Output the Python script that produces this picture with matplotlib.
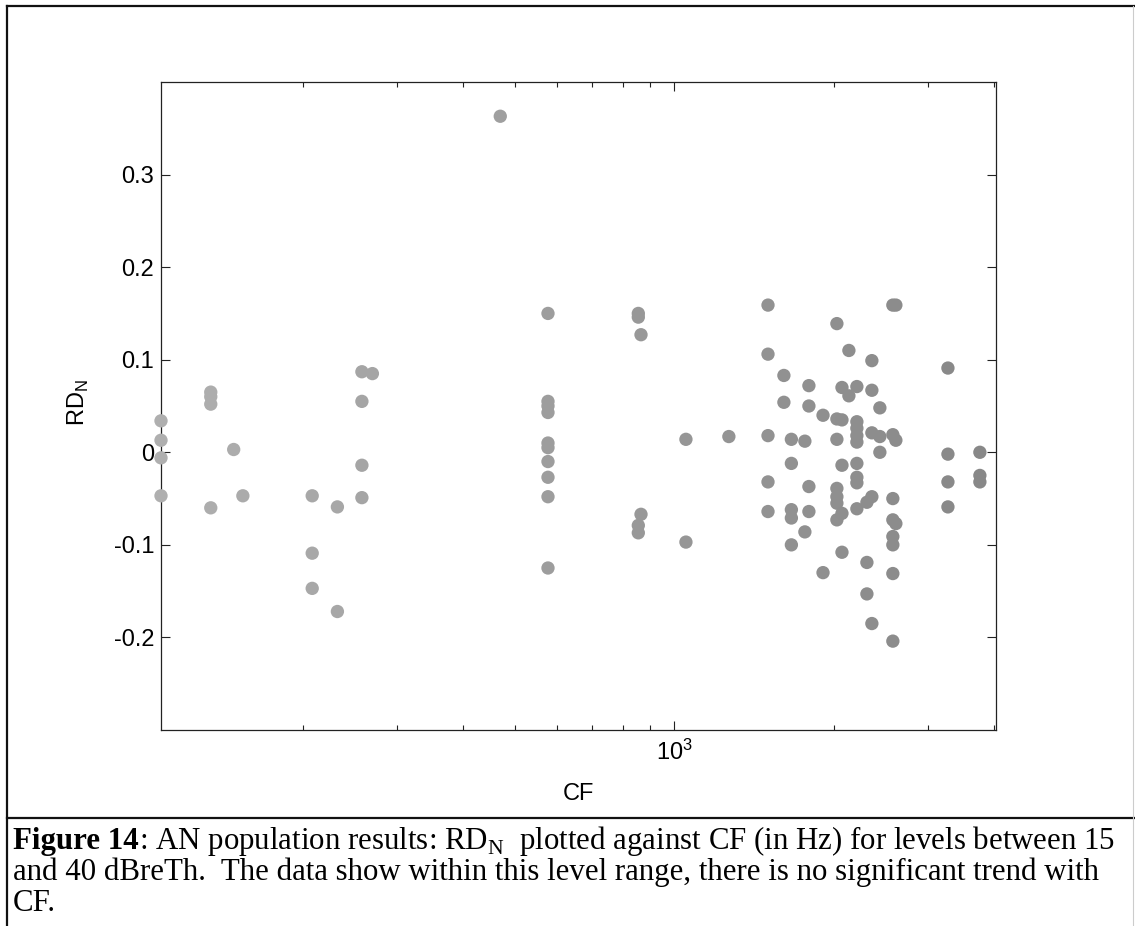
import numpy as np
import matplotlib
matplotlib.use("Agg")
import matplotlib.pyplot as plt
from matplotlib.lines import Line2D
from matplotlib import ticker

# Characteristic frequency of each unit (Hz) and its normalized rate difference
cf_hz = [
    108, 108, 108, 108,
    134, 134, 134, 134,
    148, 154,
    208, 208, 208,
    232, 232,
    258, 258, 258, 258,
    270,
    470,
    578, 578, 578, 578, 578, 578, 578, 578, 578, 578,
    855, 855, 855, 855,
    865, 865,
    1051, 1051,
    1266,
    1500, 1500, 1500, 1500, 1500,
    1607, 1607,
    1660, 1660, 1660, 1660, 1660,
    1760, 1760,
    1791, 1791, 1791, 1791,
    1904, 1904,
    2022, 2022, 2022, 2022, 2022, 2022, 2022,
    2067, 2067, 2067, 2067, 2067,
    2130, 2130,
    2205, 2205, 2205, 2205, 2205, 2205, 2205, 2205, 2205,
    2303, 2303, 2303,
    2353, 2353, 2353, 2353, 2353,
    2436, 2436, 2436,
    2577, 2577, 2577, 2577, 2577, 2577, 2577, 2577,
    2611, 2611, 2611,
    3272, 3272, 3272, 3272,
    3758, 3758, 3758,
]
rd_n = [
    0.034, 0.013, -0.006, -0.047,
    0.065, 0.060, 0.052, -0.060,
    0.003, -0.047,
    -0.047, -0.109, -0.147,
    -0.059, -0.172,
    0.087, 0.055, -0.014, -0.049,
    0.085,
    0.363,
    0.150, 0.055, 0.050, 0.043, 0.010, 0.005, -0.010, -0.027, -0.048, -0.125,
    0.150, 0.146, -0.079, -0.087,
    0.127, -0.067,
    0.014, -0.097,
    0.017,
    0.159, 0.106, 0.018, -0.032, -0.064,
    0.083, 0.054,
    0.014, -0.012, -0.062, -0.071, -0.100,
    0.012, -0.086,
    0.072, 0.050, -0.037, -0.064,
    0.040, -0.130,
    0.139, 0.036, 0.014, -0.039, -0.048, -0.055, -0.073,
    0.070, 0.035, -0.014, -0.066, -0.108,
    0.110, 0.061,
    0.071, 0.033, 0.026, 0.018, 0.011, -0.012, -0.027, -0.033, -0.061,
    -0.054, -0.119, -0.153,
    0.099, 0.067, 0.021, -0.048, -0.185,
    0.048, 0.017, 0.000,
    0.159, 0.019, -0.050, -0.073, -0.091, -0.100, -0.131, -0.204,
    0.159, 0.013, -0.077,
    0.091, -0.002, -0.032, -0.059,
    0.000, -0.025, -0.032,
]

y_ticks = [-0.2, -0.1, 0.0, 0.1, 0.2, 0.3]
y_tick_labels = ["-0.2", "-0.1", "0", "0.1", "0.2", "0.3"]
x_major_ticks = [1000]

caption_runs_1 = [
    ("Figure 14", "bold"),
    (r": AN population results: RD$_\mathregular{N}$  plotted against CF (in Hz) for levels between 15", "normal"),
]
caption_line_2 = "and 40 dBreTh.  The data show within this level range, there is no significant trend with"
caption_line_3 = "CF."

W, H = 1135, 926
fig = plt.figure(figsize=(W / 100, H / 100), dpi=100)
fig.patch.set_facecolor("white")

SANS = "Liberation Sans"
SERIF = "Liberation Serif"

ax = fig.add_axes([161 / W, (H - 730) / H, (996 - 161) / W, (730 - 82) / H])

cf = np.asarray(cf_hz, dtype=float)
rd = np.asarray(rd_n, dtype=float)
shade = np.interp(np.log10(cf), [2.0, 3.6], [0.69, 0.53])
ax.scatter(cf, rd, s=92, c=[(g, g, g) for g in shade], edgecolors="none",
           zorder=3, clip_on=False)

ax.set_xscale("log")
ax.set_xlim(108, 4030)
ax.set_ylim(-0.3, 0.4)

ax.set_xticks(x_major_ticks)
ax.xaxis.set_major_formatter(ticker.LogFormatterSciNotation())
ax.xaxis.set_minor_locator(ticker.LogLocator(base=10, subs=np.arange(2, 10)))
ax.xaxis.set_minor_formatter(ticker.NullFormatter())
ax.set_yticks(y_ticks)
ax.set_yticklabels(y_tick_labels)
ax.yaxis.set_minor_locator(ticker.NullLocator())

ax.tick_params(which="both", direction="in", top=True, right=True,
               width=0.8, colors="#222222", labelcolor="black")
ax.tick_params(which="major", length=6.5, labelsize=17, pad=5)
ax.tick_params(axis="x", which="major", pad=7)
ax.tick_params(which="minor", length=3.8)
for lab in ax.get_xticklabels() + ax.get_yticklabels():
    lab.set_fontfamily(SANS)
for sp in ax.spines.values():
    sp.set_linewidth(0.9)
    sp.set_color("#222222")

ax.set_xlabel("CF", fontsize=17, fontfamily=SANS, va="baseline")
ax.xaxis.set_label_coords(0.5, (730 - 800) / 648)
ax.set_ylabel(r"RD$_\mathregular{N}$", fontsize=17, fontfamily=SANS, va="center")
ax.yaxis.set_label_coords((78 - 161) / 835, 0.505)

# Page frame and caption box
frame_kw = dict(color="#111111", linewidth=1.6, transform=fig.transFigure)
fig.add_artist(Line2D([7 / W, 7 / W], [1 - 6 / H, 0], **frame_kw))
fig.add_artist(Line2D([7 / W, 1], [1 - 6 / H, 1 - 6 / H], **frame_kw))
fig.add_artist(Line2D([7 / W, 1], [1 - 818 / H, 1 - 818 / H], **frame_kw))
fig.add_artist(Line2D([1133 / W, 1133 / W], [1 - 6 / H, 0], color="#cccccc",
                      linewidth=0.8, transform=fig.transFigure))

cap_size = 22.2
renderer = fig.canvas.get_renderer()
x_px = 13
for text, weight in caption_runs_1:
    t = fig.text(x_px / W, 1 - 849 / H, text, fontsize=cap_size, fontfamily=SERIF,
                 fontweight=weight, va="baseline", ha="left")
    x_px = t.get_window_extent(renderer=renderer).x1
fig.text(13 / W, 1 - 880 / H, caption_line_2, fontsize=cap_size, fontfamily=SERIF,
         va="baseline", ha="left")
fig.text(13 / W, 1 - 911 / H, caption_line_3, fontsize=cap_size, fontfamily=SERIF,
         va="baseline", ha="left")

fig.savefig("out.png", dpi=100, facecolor="white")
